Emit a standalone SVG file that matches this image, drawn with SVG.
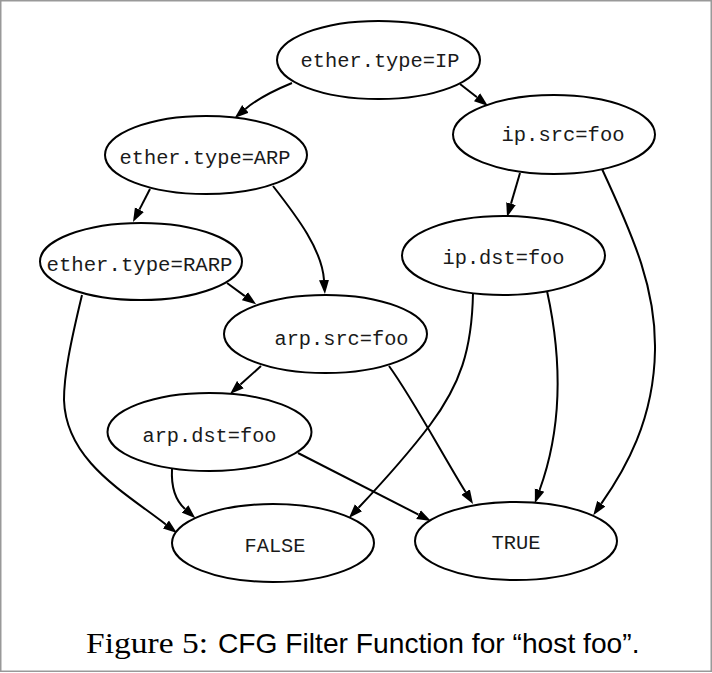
<svg xmlns="http://www.w3.org/2000/svg" width="712" height="673" viewBox="0 0 712 673">
<style>
.node ellipse{fill:#fff;stroke:#000;stroke-width:2}
.node text{font-family:"Liberation Mono","Courier New",monospace;font-size:20px;fill:#1a1a1a}
.edge{fill:none;stroke:#000;stroke-width:2;marker-end:url(#ah)}
.cap-serif{font-family:"Liberation Serif","Times New Roman",serif;font-size:30px;fill:#000}
.cap-sans{font-family:"Liberation Sans",Arial,sans-serif;font-size:28px;fill:#000}
</style>
<defs>
<marker id="ah" markerUnits="userSpaceOnUse" markerWidth="15" markerHeight="11" refX="0" refY="5" orient="auto" viewBox="0 0 15 10">
<path d="M0,0 L14,5 L0,10 z" fill="#000"/>
</marker>
</defs>
<rect x="0.75" y="0.75" width="710.5" height="670.5" fill="#fff" stroke="#999" stroke-width="1.5"/>
<g id="connectors">
<path class="edge" d="M292,83 C275,90 256,100 245.4,108.9"/>
<path class="edge" d="M460,84 L477,97.3"/>
<path class="edge" d="M150,189 L139.4,209.6"/>
<path class="edge" d="M273,186 C298,218 322,250 324,280"/>
<path class="edge" d="M227,283 L244.9,296.1"/>
<path class="edge" d="M82,295 C70,345 64,375 64,400 C66,460 122.5,491 165.9,524.5"/>
<path class="edge" d="M261,366 L240.4,384.6"/>
<path class="edge" d="M389,366 C412.6,398.4 444.4,458 465.6,492"/>
<path class="edge" d="M172,469 C171,488 175,500 185,509"/>
<path class="edge" d="M298,453 L418.5,514.6"/>
<path class="edge" d="M520,173 L511,203.6"/>
<path class="edge" d="M602,169 C635,240 656,290 655,350 C654,420 625,470 601.3,503.7"/>
<path class="edge" d="M473,293 C472,350 460,385 430,425 C405,458 380,485 358.5,507.8"/>
<path class="edge" d="M547,291 C560,350 565,420 539.6,490"/>
</g>
<g id="n_ether_ip" class="node">
<ellipse cx="378.5" cy="60" rx="101.5" ry="39"/>
<text x="300.5" y="67" textLength="159" lengthAdjust="spacingAndGlyphs">ether.type=IP</text>
</g>
<g id="n_ip_src" class="node">
<ellipse cx="554" cy="134.5" rx="101" ry="39.5"/>
<text x="501.5" y="141" textLength="123" lengthAdjust="spacingAndGlyphs">ip.src=foo</text>
</g>
<g id="n_ether_arp" class="node">
<ellipse cx="206" cy="155" rx="101" ry="39"/>
<text x="119.5" y="164" textLength="171" lengthAdjust="spacingAndGlyphs">ether.type=ARP</text>
</g>
<g id="n_ip_dst" class="node">
<ellipse cx="503.5" cy="255.5" rx="101.5" ry="39.5"/>
<text x="442.5" y="264" textLength="122" lengthAdjust="spacingAndGlyphs">ip.dst=foo</text>
</g>
<g id="n_ether_rarp" class="node">
<ellipse cx="141" cy="261.5" rx="101" ry="38.5"/>
<text x="46.5" y="271" textLength="186" lengthAdjust="spacingAndGlyphs">ether.type=RARP</text>
</g>
<g id="n_arp_src" class="node">
<ellipse cx="325.5" cy="334" rx="101.5" ry="39"/>
<text x="274.5" y="345" textLength="134" lengthAdjust="spacingAndGlyphs">arp.src=foo</text>
</g>
<g id="n_arp_dst" class="node">
<ellipse cx="209.5" cy="432" rx="102" ry="39"/>
<text x="142.5" y="442" textLength="134" lengthAdjust="spacingAndGlyphs">arp.dst=foo</text>
</g>
<g id="n_false" class="node">
<ellipse cx="273" cy="543" rx="101" ry="39"/>
<text x="244.5" y="552" textLength="61" lengthAdjust="spacingAndGlyphs">FALSE</text>
</g>
<g id="n_true" class="node">
<ellipse cx="516" cy="541" rx="101" ry="39"/>
<text x="491.5" y="549" textLength="49" lengthAdjust="spacingAndGlyphs">TRUE</text>
</g>
<g id="caption">
<text class="cap-serif" x="86" y="653" textLength="122" lengthAdjust="spacingAndGlyphs">Figure 5:</text>
<text class="cap-sans" x="218" y="653" textLength="421.5" lengthAdjust="spacingAndGlyphs">CFG Filter Function for “host foo”.</text>
</g>
</svg>
